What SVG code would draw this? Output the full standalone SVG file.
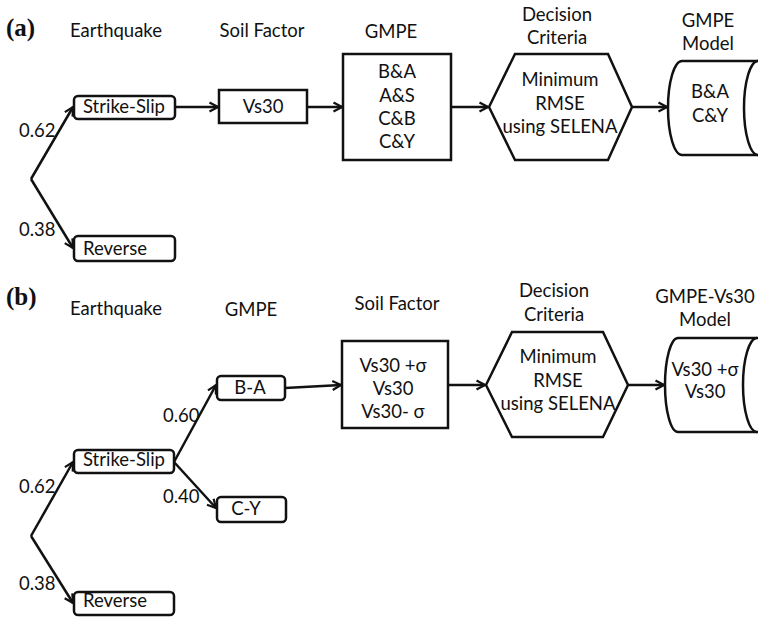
<svg xmlns="http://www.w3.org/2000/svg" width="758" height="617" viewBox="0 0 758 617">
<defs>
<style>
.t{font-family:Lato,"Open Sans","DejaVu Sans",sans-serif;font-size:18.5px;fill:#111;text-anchor:middle}
.s{text-anchor:start}
.p{font-family:"Liberation Serif",serif;font-weight:bold;font-size:25px;fill:#111}
.n{fill:#fff;stroke:#111;stroke-width:2.5}
.c{stroke:#111;stroke-width:2.5;fill:none;marker-end:url(#ah)}
</style>
<marker id="ah" viewBox="0 0 12 12" refX="10.5" refY="6" markerWidth="12" markerHeight="12" markerUnits="userSpaceOnUse" orient="auto">
<path d="M2,1.5 L10.5,6 L2,10.5" fill="none" stroke="#111" stroke-width="2.2"/>
</marker>
</defs>
<rect width="758" height="617" fill="#fff"/>

<g id="headers">
<text class="p" x="6" y="36">(a)</text>
<text class="t" x="116" y="37">Earthquake</text>
<text class="t" x="262" y="37">Soil Factor</text>
<text class="t" x="391" y="38">GMPE</text>
<text class="t" x="557" y="21">Decision</text>
<text class="t" x="557" y="44">Criteria</text>
<text class="t" x="708" y="27">GMPE</text>
<text class="t" x="708" y="50">Model</text>

<text class="p" x="6" y="305">(b)</text>
<text class="t" x="116" y="315">Earthquake</text>
<text class="t" x="251" y="316">GMPE</text>
<text class="t" x="397" y="310">Soil Factor</text>
<text class="t" x="554" y="297">Decision</text>
<text class="t" x="554" y="321">Criteria</text>
<text class="t" x="705" y="303">GMPE-Vs30</text>
<text class="t" x="705" y="326">Model</text>
</g>

<g id="connectors">
<line class="c" x1="31" y1="179" x2="73" y2="107"/>
<line class="c" x1="31" y1="179" x2="73" y2="248"/>
<line class="c" x1="175" y1="107" x2="218" y2="107"/>
<line class="c" x1="307" y1="107" x2="342" y2="107"/>
<line class="c" x1="451" y1="107" x2="488" y2="107"/>
<line class="c" x1="632" y1="107" x2="667" y2="107"/>

<line class="c" x1="31" y1="536" x2="73" y2="462"/>
<line class="c" x1="31" y1="536" x2="73" y2="603"/>
<line class="c" x1="174" y1="462" x2="216" y2="385"/>
<line class="c" x1="174" y1="462" x2="216" y2="508"/>
<line class="c" x1="285" y1="388" x2="341" y2="385"/>
<line class="c" x1="448" y1="385" x2="485" y2="385"/>
<line class="c" x1="628" y1="385" x2="664" y2="385"/>
</g>

<g id="edge-labels">
<text class="t s" x="19" y="137">0.62</text>
<text class="t s" x="19" y="236">0.38</text>
<text class="t s" x="19" y="493">0.62</text>
<text class="t s" x="19" y="590">0.38</text>
<text class="t s" x="163" y="422">0.60</text>
<text class="t s" x="163" y="503">0.40</text>
</g>

<g id="a-strike-slip">
<rect class="n" x="74" y="96" width="101" height="23" rx="4"/>
<text class="t" x="124" y="113">Strike-Slip</text>
</g>
<g id="a-reverse">
<rect class="n" x="74" y="236" width="101" height="25" rx="4"/>
<text class="t s" x="83" y="255">Reverse</text>
</g>
<g id="a-vs30">
<rect class="n" x="219" y="90" width="88" height="33"/>
<text class="t" x="263" y="113">Vs30</text>
</g>
<g id="a-gmpe">
<rect class="n" x="343" y="54" width="108" height="106"/>
<text class="t" x="397" y="78">B&amp;A</text>
<text class="t" x="397" y="102">A&amp;S</text>
<text class="t" x="397" y="125">C&amp;B</text>
<text class="t" x="397" y="148">C&amp;Y</text>
</g>
<g id="a-decision">
<polygon class="n" points="489,107 515,54 608,54 632,107 608,160 515,160"/>
<text class="t" x="560" y="86">Minimum</text>
<text class="t" x="560" y="110">RMSE</text>
<text class="t" x="560" y="133">using SELENA</text>
</g>
<g id="a-model">
<path class="n" d="M760,61 L682,61 A14 47 0 0 0 682,155 L760,155"/>
<path class="n" d="M758,61 A14 47 0 0 0 758,155" fill="none"/>
<text class="t" x="710" y="98">B&amp;A</text>
<text class="t" x="710" y="122">C&amp;Y</text>
</g>

<g id="b-strike-slip">
<rect class="n" x="74" y="450" width="100" height="23" rx="4"/>
<text class="t" x="124" y="466">Strike-Slip</text>
</g>
<g id="b-reverse">
<rect class="n" x="74" y="592" width="100" height="23" rx="4"/>
<text class="t s" x="83" y="607">Reverse</text>
</g>
<g id="b-ba">
<rect class="n" x="217" y="376" width="68" height="24" rx="4"/>
<text class="t" x="250" y="394">B-A</text>
</g>
<g id="b-cy">
<rect class="n" x="217" y="497" width="69" height="25" rx="4"/>
<text class="t" x="246" y="515">C-Y</text>
</g>
<g id="b-soil">
<rect class="n" x="342" y="341" width="106" height="87"/>
<text class="t" x="393" y="372">Vs30 +σ</text>
<text class="t" x="393" y="395">Vs30</text>
<text class="t" x="393" y="418">Vs30- σ</text>
</g>
<g id="b-decision">
<polygon class="n" points="486,385 512,332 603,332 628,385 603,437 512,437"/>
<text class="t" x="558" y="363">Minimum</text>
<text class="t" x="558" y="387">RMSE</text>
<text class="t" x="558" y="410">using SELENA</text>
</g>
<g id="b-model">
<path class="n" d="M760,338 L678,338 A13 47 0 0 0 678,432 L760,432"/>
<path class="n" d="M757,338 A14 47 0 0 0 757,432" fill="none"/>
<text class="t" x="705" y="376">Vs30 +σ</text>
<text class="t" x="705" y="398">Vs30</text>
</g>
</svg>
